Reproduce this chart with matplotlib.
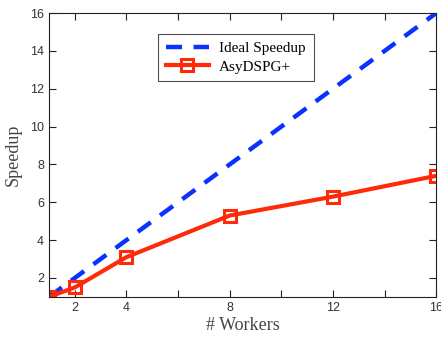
import matplotlib
matplotlib.use("Agg")
import matplotlib.pyplot as plt
from matplotlib.ticker import FixedLocator, FixedFormatter

workers = [1, 2, 4, 8, 12, 16]
asy_speedup = [1.0, 1.5, 3.1, 5.3, 6.3, 7.4]
ideal_x = [1, 16]
ideal_y = [1, 16]
xticks = [2, 4, 6, 8, 10, 12, 14, 16]
xticklabels = ["2", "4", "", "8", "", "12", "", "16"]
yticks = [2, 4, 6, 8, 10, 12, 14, 16]

fig = plt.figure(figsize=(4.41, 3.37), dpi=100)
ax = fig.add_axes([0.111, 0.119, 0.878, 0.842])

ax.plot(ideal_x, ideal_y, linestyle=(0, (3.6, 2.6)), color="#0a32ff", lw=3.2,
        label="Ideal Speedup")
ax.plot(workers, asy_speedup, color="#ff2a0a", lw=3.0, marker="s", markersize=9,
        markerfacecolor="none", markeredgecolor="#ff2a0a", markeredgewidth=2.2,
        label="AsyDSPG+")

ax.set_xlim(1, 16)
ax.set_ylim(1, 16)
ax.xaxis.set_major_locator(FixedLocator(xticks))
ax.xaxis.set_major_formatter(FixedFormatter(xticklabels))
ax.set_yticks(yticks)
ax.tick_params(direction="in", top=True, right=True, length=5, width=0.8,
               labelsize=9, colors="#222222")
for lab in ax.get_xticklabels() + ax.get_yticklabels():
    lab.set_family("Liberation Sans")
    lab.set_color("#333333")
for sp in ax.spines.values():
    sp.set_color("#222222")
    sp.set_linewidth(0.8)

ax.set_xlabel("# Workers", family="Liberation Serif", fontsize=13, color="#444444", labelpad=2)
ax.set_ylabel("Speedup", family="Liberation Serif", fontsize=13, color="#444444", labelpad=6)

leg = ax.legend(loc="upper left", bbox_to_anchor=(0.282, 0.926), borderaxespad=0,
                prop={"family": "Liberation Serif", "size": 11},
                frameon=True, fancybox=False, edgecolor="#222222", handlelength=2.8,
                borderpad=0.5, labelspacing=0.3, handletextpad=0.7)
leg.get_frame().set_linewidth(0.8)

fig.savefig("out.png", dpi=100)
